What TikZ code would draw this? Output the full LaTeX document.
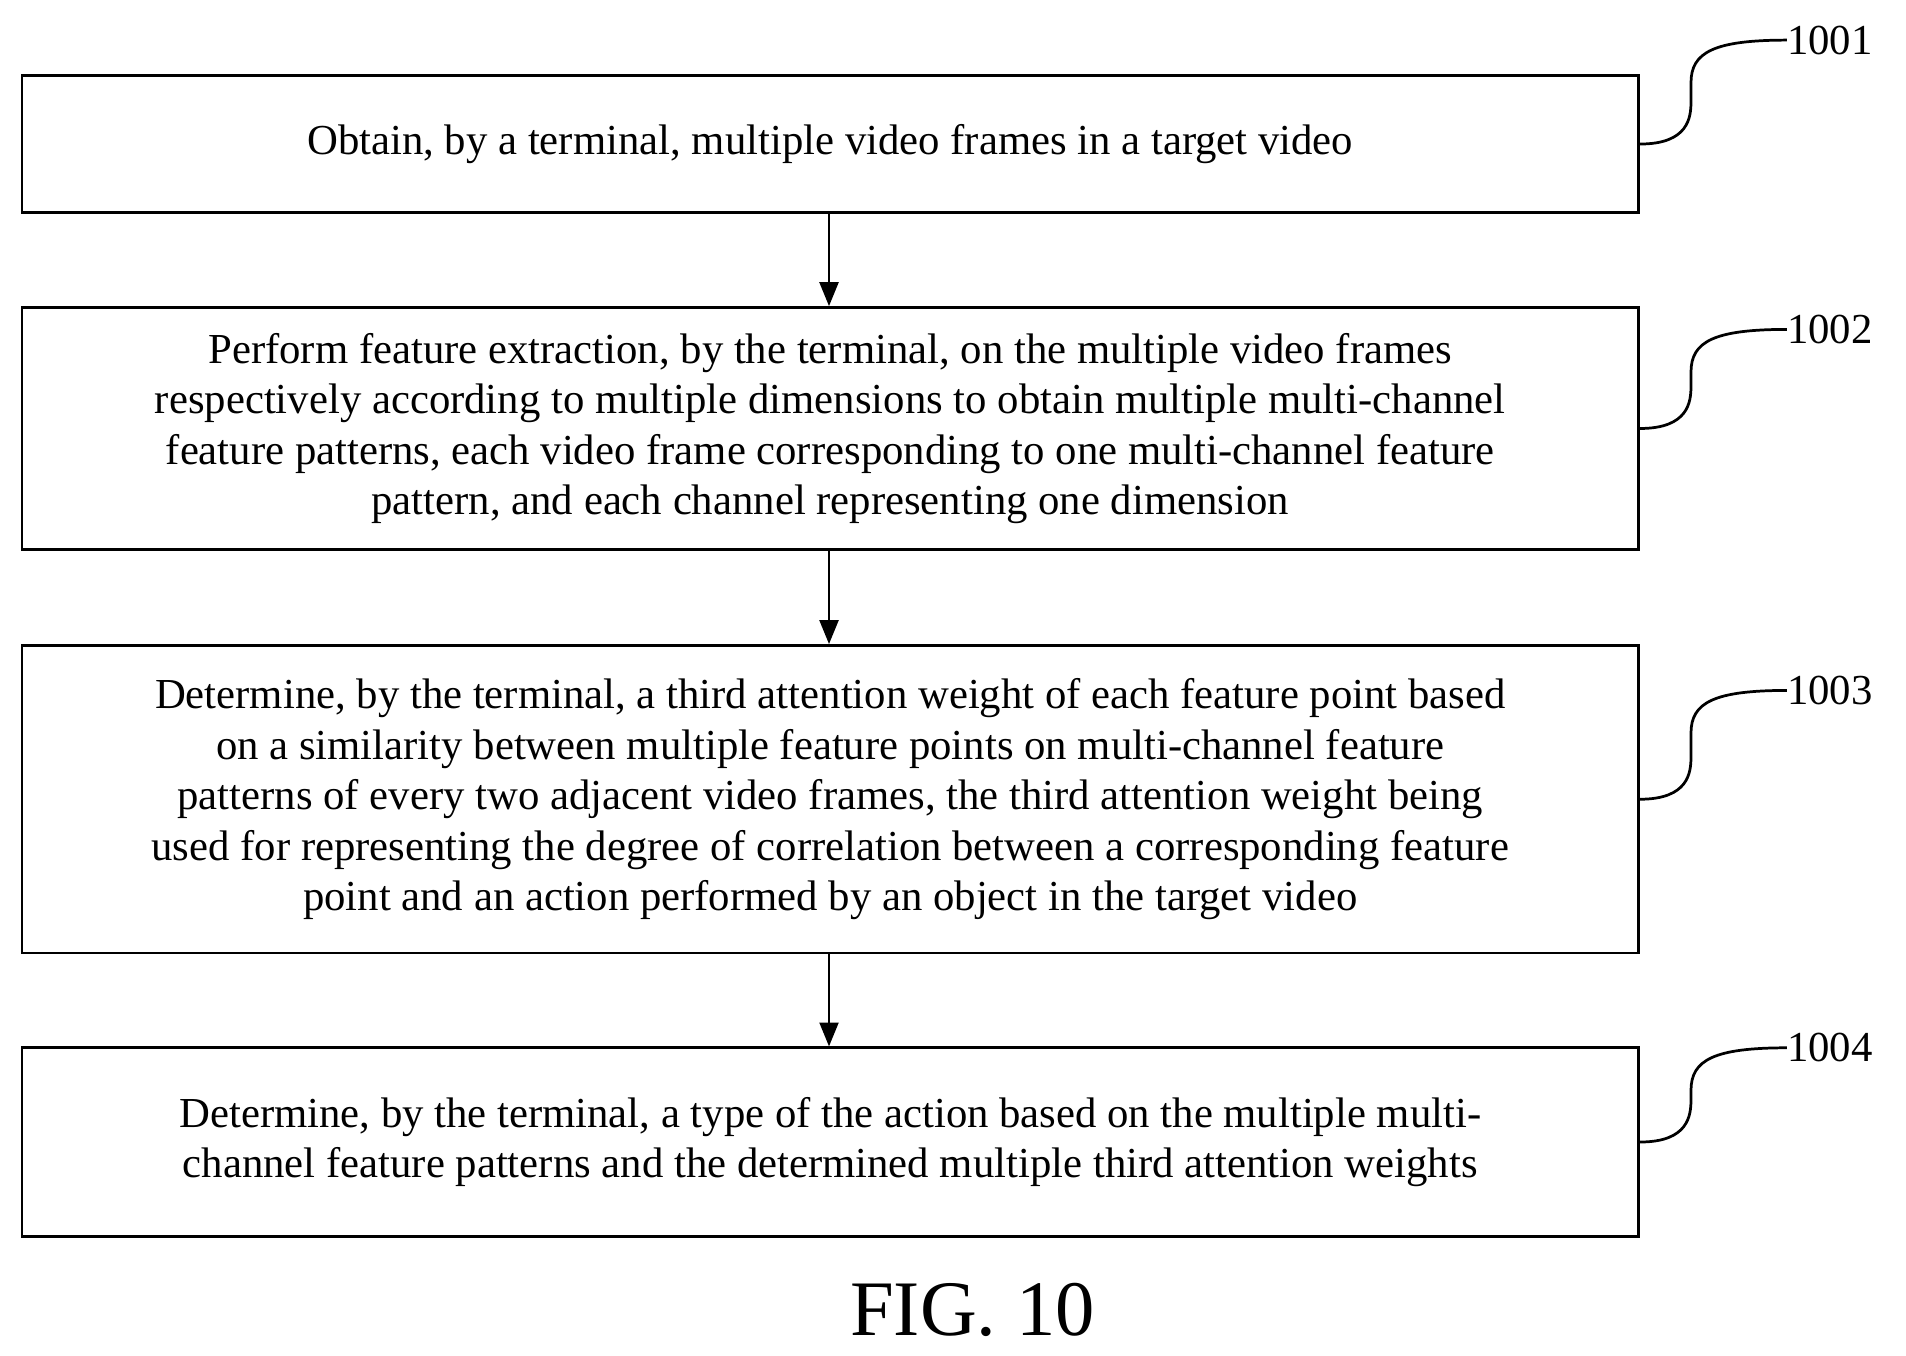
\documentclass[tikz,border=0pt]{standalone}
\usepackage{fontspec}
\setmainfont{Liberation Serif}
\usetikzlibrary{arrows.meta,calc}
\begin{document}
\begin{tikzpicture}[x=0.025cm,y=0.025cm,
  stepbox/.style={draw,line width=1.6pt,minimum width=1330*0.025cm,align=center,font=\fontsize{25}{29.5}\selectfont,inner sep=0pt},
  arr/.style={-{Triangle[length=14pt,width=11pt]},line width=1.6pt},
  lead/.style={line width=1.6pt},
  lab/.style={font=\fontsize{25}{29}\selectfont,anchor=west,inner sep=0pt}]
\useasboundingbox (0,0) rectangle (1568,-1115);
\node[stepbox,minimum height=113*0.025cm] (b1) at (683,-118.5) {Obtain, by a terminal, multiple video frames in a target video};
\node[stepbox,minimum height=199*0.025cm] (b2) at (683,-352.5) {Perform feature extraction, by the terminal, on the multiple video frames\\respectively according to multiple dimensions to obtain multiple multi-channel\\feature patterns, each video frame corresponding to one multi-channel feature\\pattern, and each channel representing one dimension};
\node[stepbox,minimum height=253*0.025cm] (b3) at (683,-657.5) {Determine, by the terminal, a third attention weight of each feature point based\\on a similarity between multiple feature points on multi-channel feature\\patterns of every two adjacent video frames, the third attention weight being\\used for representing the degree of correlation between a corresponding feature\\point and an action performed by an object in the target video};
\node[stepbox,minimum height=155*0.025cm] (b4) at (683,-939.5) {Determine, by the terminal, a type of the action based on the multiple multi-\\channel feature patterns and the determined multiple third attention weights};
\draw[arr] (b1.south -| 682,0) -- (b2.north -| 682,0);
\draw[arr] (b2.south -| 682,0) -- (b3.north -| 682,0);
\draw[arr] (b3.south -| 682,0) -- (b4.north -| 682,0);
\foreach \b/\t/\n in {b1/1001/33, b2/1002/271, b3/1003/568, b4/1004/862}{
  \node[lab] (l\t) at (1470,-\n) {\t};
  \coordinate (s\t) at (\b.east);
  \coordinate (p\t) at ($(s\t)+(42,35)$);
  \coordinate (q\t) at ($(l\t.west)+(-78,-35)$);
  \coordinate (qq\t) at ($(l\t.west)+(-78,-10)$);
  \draw[lead] (s\t) .. controls ($(s\t)+(40,0)$) and ($(s\t)+(42,22)$) .. (p\t)
     -- (p\t |- q\t)
     .. controls (p\t |- qq\t) and ($(l\t.west)+(-60,0)$) .. (l\t.west);
}
\node[font=\fontsize{46}{50}\selectfont] (fig) at (800,-1078) {FIG. 10};
\end{tikzpicture}
\end{document}
